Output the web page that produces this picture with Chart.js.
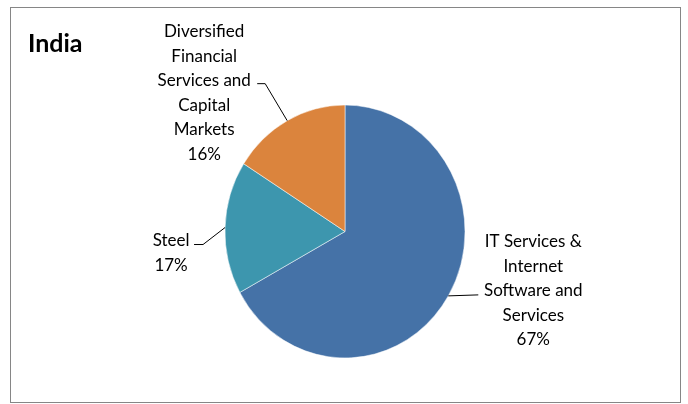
<!DOCTYPE html>
<html>
<head>
<meta charset="utf-8">
<script src="https://cdn.jsdelivr.net/npm/chart.js@4/dist/chart.umd.min.js"></script>
<style>
  html, body { margin: 0; padding: 0; background: #fff; }
  #wrap { width: 688px; height: 404px; }
</style>
</head>
<body>
<div id="wrap"><canvas id="chart" width="688" height="404"></canvas></div>
<script>
// 数据
const categories = ['IT Services & Internet Software and Services', 'Steel', 'Diversified Financial Services and Capital Markets'];
const shares = [67, 17, 16];
const labelLines = [
  ['IT Services &', 'Internet', 'Software and', 'Services'],
  ['Steel'],
  ['Diversified', 'Financial', 'Services and', 'Capital', 'Markets']
];
const sliceColors = ['#4572A7', '#3D96AE', '#DB843D'];

const FONT = 'Lato, "Open Sans", sans-serif';
const Y_STRETCH = 1.054; // 原图略微纵向拉伸

// 标签位置（相对扇区中点的偏移）
const labelPlacement = [
  { tx: 85, ty: -54, elbow: null, end: [30, -1] },
  { tx: -54, ty: 13, elbow: [-22, 17], end: [-31, 17] },
  { tx: -83, ty: -89, elbow: [-22, -37], end: [-30, -37] }
];

// 外框 + 标题
const framePlugin = {
  id: 'frame',
  beforeDraw(chart) {
    const ctx = chart.ctx;
    ctx.save();
    ctx.fillStyle = '#fff';
    ctx.fillRect(0, 0, chart.width, chart.height);
    ctx.strokeStyle = '#868686';
    ctx.lineWidth = 1;
    ctx.strokeRect(10.5, 7.5, 670, 395);
    ctx.fillStyle = '#000';
    ctx.font = 'bold 25px ' + FONT;
    ctx.textBaseline = 'middle';
    ctx.fillText('India', 28, 44);
    ctx.restore();
  }
};

// 纵向拉伸饼图
const stretchPlugin = {
  id: 'stretch',
  beforeDatasetsDraw(chart) {
    const arc = chart.getDatasetMeta(0).data[0];
    const ctx = chart.ctx;
    ctx.save();
    ctx.translate(arc.x, arc.y);
    ctx.scale(1, Y_STRETCH);
    ctx.translate(-arc.x, -arc.y);
  },
  afterDatasetsDraw(chart) {
    chart.ctx.restore();
  }
};

// 数据标签和引导线
const labelPlugin = {
  id: 'sliceLabels',
  afterDraw(chart) {
    const ctx = chart.ctx;
    const meta = chart.getDatasetMeta(0);
    const total = shares.reduce((a, b) => a + b, 0);
    ctx.save();
    ctx.font = '17px ' + FONT;
    ctx.fillStyle = '#000';
    ctx.strokeStyle = '#000';
    ctx.lineWidth = 1;
    ctx.textAlign = 'center';
    ctx.textBaseline = 'middle';
    meta.data.forEach((arc, i) => {
      const p = arc.getProps(['x', 'y', 'startAngle', 'endAngle', 'outerRadius'], true);
      const mid = (p.startAngle + p.endAngle) / 2;
      const ax = p.x + Math.cos(mid) * p.outerRadius;
      const ay = p.y + Math.sin(mid) * p.outerRadius * Y_STRETCH;
      const pl = labelPlacement[i];

      // 引导线
      ctx.beginPath();
      ctx.moveTo(ax, ay);
      if (pl.elbow) ctx.lineTo(ax + pl.elbow[0], ay + pl.elbow[1]);
      ctx.lineTo(ax + pl.end[0], ay + pl.end[1]);
      ctx.stroke();

      // 文字
      const pct = Math.round(shares[i] / total * 100) + '%';
      const lines = labelLines[i].concat([pct]);
      lines.forEach((t, j) => {
        ctx.fillText(t, ax + pl.tx, ay + pl.ty + j * 24.5);
      });
    });
    ctx.restore();
  }
};

new Chart(document.getElementById('chart'), {
  type: 'pie',
  data: {
    labels: categories,
    datasets: [{
      data: shares,
      backgroundColor: sliceColors,
      borderColor: '#ffffff',
      borderWidth: 0.5,
      hoverOffset: 0,
      radius: 120
    }]
  },
  options: {
    responsive: false,
    animation: false,
    layout: {
      padding: { top: 101.5, bottom: 42.5, left: 145, right: 143 }
    },
    plugins: {
      legend: { display: false },
      tooltip: { enabled: false }
    }
  },
  plugins: [framePlugin, stretchPlugin, labelPlugin]
});
</script>
</body>
</html>
